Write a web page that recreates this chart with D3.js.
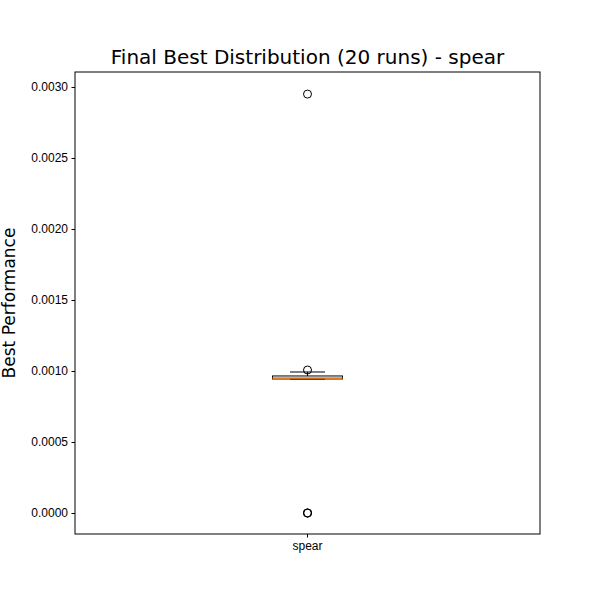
<!DOCTYPE html>
<html><head><meta charset="utf-8">
<script src="https://cdn.jsdelivr.net/npm/d3@7"></script>
<style>body{margin:0;background:#fff}</style>
</head><body><div id="chart"></div>
<script>
const categories = ["spear"];
const q1 = [0.000944];
const median = [0.000951];
const q3 = [0.000965];
const whiskerLow = [0.000944];
const whiskerHigh = [0.000993];
const outliers = [[0.00295, 0.001007, 0.0, 0.0, 0.0]];
const yTicks = [0, 0.0005, 0.001, 0.0015, 0.002, 0.0025, 0.003];

const mLeft = 75, mRight = 540, mTop = 72, mBottom = 534;
const svg = d3.select("#chart").append("svg").attr("width", 600).attr("height", 600)
  .style("font-family", "DejaVu Sans");

const x = d3.scaleBand().domain(categories).range([mLeft, mRight]);
const y = d3.scaleLinear().domain([-0.0001478, 0.0031055]).range([mBottom, mTop]);

svg.append("g").attr("transform", `translate(0,${mBottom})`)
  .call(d3.axisBottom(x).tickSize(3.5).tickPadding(3.5))
  .call(g => g.select(".domain").remove())
  .selectAll("text").style("font-size", "12px").attr("fill", "#000");
svg.append("g").attr("transform", `translate(${mLeft},0)`)
  .call(d3.axisLeft(y).tickValues(yTicks).tickFormat(d3.format(".4f")).tickSize(3.5).tickPadding(3.5))
  .call(g => g.select(".domain").remove())
  .selectAll("text").style("font-size", "12px").attr("fill", "#000");

svg.append("rect").attr("x", mLeft).attr("y", mTop).attr("width", mRight - mLeft).attr("height", mBottom - mTop)
  .attr("fill", "none").attr("stroke", "#000").attr("stroke-width", 1);

const bw = 70, cw = 35;
categories.forEach((c, i) => {
  const cx = x(c) + x.bandwidth() / 2;
  const g = svg.append("g");
  g.append("line").attr("x1", cx).attr("x2", cx).attr("y1", y(q3[i])).attr("y2", y(whiskerHigh[i])).attr("stroke", "#000");
  g.append("line").attr("x1", cx).attr("x2", cx).attr("y1", y(q1[i])).attr("y2", y(whiskerLow[i])).attr("stroke", "#000");
  g.append("line").attr("x1", cx - cw / 2).attr("x2", cx + cw / 2).attr("y1", y(whiskerHigh[i])).attr("y2", y(whiskerHigh[i])).attr("stroke", "#000");
  g.append("line").attr("x1", cx - cw / 2).attr("x2", cx + cw / 2).attr("y1", y(whiskerLow[i])).attr("y2", y(whiskerLow[i])).attr("stroke", "#000");
  g.append("rect").attr("x", cx - bw / 2).attr("width", bw).attr("y", y(q3[i])).attr("height", Math.max(1, y(q1[i]) - y(q3[i])))
    .attr("fill", "none").attr("stroke", "#000");
  g.append("line").attr("x1", cx - bw / 2).attr("x2", cx + bw / 2).attr("y1", y(median[i])).attr("y2", y(median[i]))
    .attr("stroke", "#ff7f0e").attr("stroke-width", 1.5);
  g.selectAll("circle").data(outliers[i]).join("circle")
    .attr("cx", cx).attr("cy", d => y(d)).attr("r", 4)
    .attr("fill", "none").attr("stroke", "#000");
});

svg.append("text").attr("x", (mLeft + mRight) / 2).attr("y", 64).attr("text-anchor", "middle")
  .style("font-size", "20px").text("Final Best Distribution (20 runs) - spear");
svg.append("text").attr("transform", `translate(9,${(mTop + mBottom) / 2}) rotate(-90)`)
  .attr("text-anchor", "middle").attr("dy", "0.35em").style("font-size", "17px").text("Best Performance");
</script></body></html>
